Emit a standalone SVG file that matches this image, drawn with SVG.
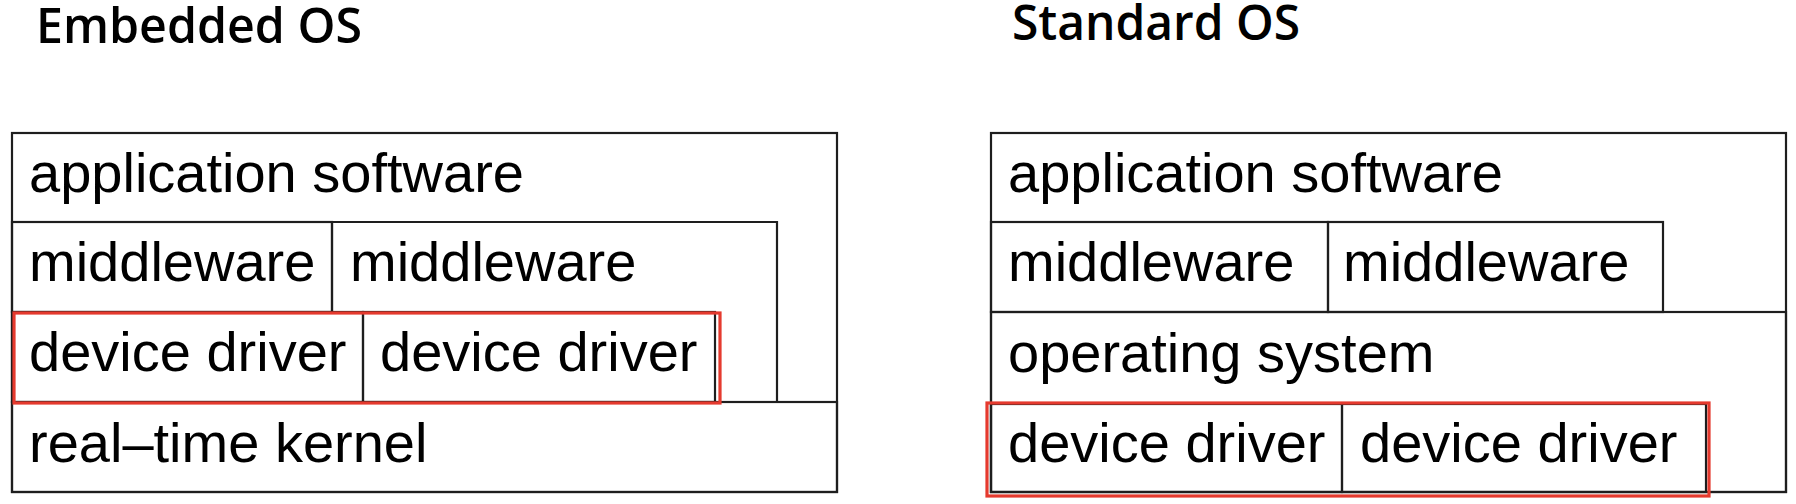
<svg xmlns="http://www.w3.org/2000/svg" width="1796" height="504" viewBox="0 0 1796 504">
<style>
.title{font-family:"Open Sans","Liberation Sans",sans-serif;font-size:48px;font-weight:600;fill:#000}
.lbl{font-family:"Liberation Sans",Arial,sans-serif;font-size:56px;fill:#000}
.box{fill:none;stroke:#1e1e1e;stroke-width:2.2}
.hl{fill:none;stroke:#e53a2e;stroke-width:3.2}
</style>
<rect width="1796" height="504" fill="#fff"/>
<g id="title-embedded"><text class="title" x="36" y="43" textLength="326" lengthAdjust="spacingAndGlyphs">Embedded OS</text></g>
<g id="title-standard"><text class="title" x="1012" y="40" textLength="288" lengthAdjust="spacingAndGlyphs">Standard OS</text></g>

<g id="emb-app"><rect class="box" x="12" y="133" width="825" height="359"/><text class="lbl" x="29" y="192">application software</text></g>
<g id="emb-mw1"><rect class="box" x="12" y="222" width="320" height="90"/><text class="lbl" x="29" y="281">middleware</text></g>
<g id="emb-mw2"><path class="box" d="M332,312 V222 H777 V402"/><text class="lbl" x="350" y="281">middleware</text></g>
<g id="emb-dd1"><rect class="box" x="12" y="312" width="351" height="90"/><text class="lbl" x="29" y="371">device driver</text></g>
<g id="emb-dd2"><rect class="box" x="363" y="312" width="352" height="90"/><text class="lbl" x="380" y="371">device driver</text></g>
<g id="emb-kernel"><rect class="box" x="12" y="402" width="825" height="90"/><text class="lbl" x="29" y="462">real–time kernel</text></g>
<g id="emb-highlight"><rect class="hl" x="14" y="313" width="706" height="90"/></g>

<g id="std-app"><rect class="box" x="991" y="133" width="795" height="359"/><text class="lbl" x="1008" y="192">application software</text></g>
<g id="std-mw1"><rect class="box" x="991" y="222" width="337" height="90"/><text class="lbl" x="1008" y="281">middleware</text></g>
<g id="std-mw2"><rect class="box" x="1328" y="222" width="335" height="90"/><text class="lbl" x="1343" y="281">middleware</text></g>
<g id="std-os"><rect class="box" x="991" y="312" width="795" height="180"/><text class="lbl" x="1008" y="372">operating system</text></g>
<g id="std-dd1"><rect class="box" x="991" y="404" width="351" height="88"/><text class="lbl" x="1008" y="462">device driver</text></g>
<g id="std-dd2"><rect class="box" x="1342" y="404" width="364" height="88"/><text class="lbl" x="1360" y="462">device driver</text></g>
<g id="std-highlight"><rect class="hl" x="987" y="403" width="722" height="93"/></g>

<g id="connectors"></g>
</svg>
